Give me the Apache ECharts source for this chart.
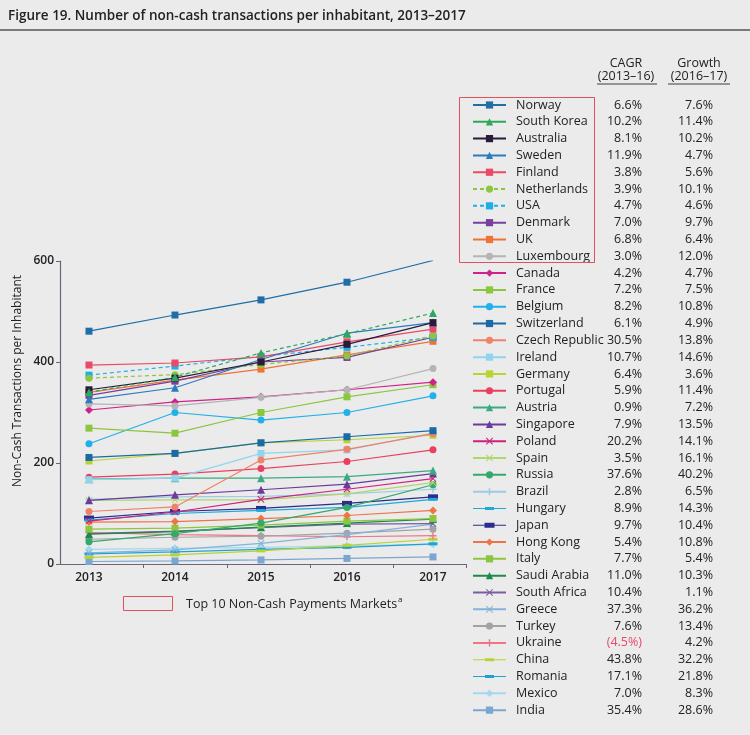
<!DOCTYPE html>
<html><head><meta charset="utf-8">
<script src="https://cdn.jsdelivr.net/npm/echarts@6/dist/echarts.min.js"></script>
<style>html,body{margin:0;padding:0;background:#ebebeb}#c{width:750px;height:735px}</style>
</head><body><div id="c"></div>
<script>
// ---------- DATA ----------
const years = [2013, 2014, 2015, 2016, 2017];
const yTicks = [0, 200, 400, 600];
const countries = ['Norway','South Korea','Australia','Sweden','Finland','Netherlands','USA','Denmark','UK','Luxembourg',
  'Canada','France','Belgium','Switzerland','Czech Republic','Ireland','Germany','Portugal','Austria','Singapore',
  'Poland','Spain','Russia','Brazil','Hungary','Japan','Hong Kong','Italy','Saudi Arabia','South Africa',
  'Greece','Turkey','Ukraine','China','Romania','Mexico','India'];
const cagr = ['6.6%','10.2%','8.1%','11.9%','3.8%','3.9%','4.7%','7.0%','6.8%','3.0%',
  '4.2%','7.2%','8.2%','6.1%','30.5%','10.7%','6.4%','5.9%','0.9%','7.9%',
  '20.2%','3.5%','37.6%','2.8%','8.9%','9.7%','5.4%','7.7%','11.0%','10.4%',
  '37.3%','7.6%','(4.5%)','43.8%','17.1%','7.0%','35.4%'];
const growth = ['7.6%','11.4%','10.2%','4.7%','5.6%','10.1%','4.6%','9.7%','6.4%','12.0%',
  '4.7%','7.5%','10.8%','4.9%','13.8%','14.6%','3.6%','11.4%','7.2%','13.5%',
  '14.1%','16.1%','40.2%','6.5%','14.3%','10.4%','10.8%','5.4%','10.3%','1.1%',
  '36.2%','13.4%','4.2%','32.2%','21.8%','8.3%','28.6%'];

const norway      = [461, 493, 523, 558, 601];
const southKorea  = [340, 370, 418, 456, 497];
const australia   = [345, 368, 400, 435, 478];
const sweden      = [326, 349, 405, 457, 478];
const finland     = [394, 398, 410, 440, 465];
const netherlands = [368, 375, 395, 412, 452];
const usa         = [374, 392, 411, 429, 449];
const denmark     = [334, 362, 400, 409, 449];
const uk          = [340, 364, 386, 414, 441];
const luxembourg  = [317, 313, 330, 345, 387];
const canada      = [305, 321, 331, 345, 360];
const france      = [269, 259, 300, 331, 355];
const belgium     = [238, 300, 285, 300, 333];
const switzerland = [211, 219, 240, 252, 264];
const czech       = [104, 113, 206, 227, 258];
const ireland     = [167, 170, 219, 226, 259];
const germany     = [204, 219, 240, 246, 255];
const portugal    = [172, 178, 189, 203, 226];
const austria     = [168, 170, 170, 173, 185];
const singapore   = [126, 137, 147, 158, 179];
const poland      = [85, 103, 128, 148, 169];
const spain       = [126, 127, 127, 139, 161];
const russia      = [44, 60, 81, 112, 157];
const brazil      = [128, 133, 134, 139, 148];
const hungary     = [87, 100, 106, 112, 128];
const japan       = [91, 104, 110, 120, 133];
const hongKong    = [83, 84, 90, 96, 106];
const italy       = [69, 71, 77, 85, 90];
const saudiArabia = [59, 64, 73, 81, 89];
const southAfrica = [60, 65, 72, 79, 80];
const greece      = [22, 28, 41, 58, 79];
const turkey      = [49, 53, 55, 61, 69];
const ukraine     = [62, 58, 56, 54, 56];
const china       = [13, 18, 26, 37, 49];
const romania     = [20, 24, 29, 33, 40];
const mexico      = [29, 31, 33, 36, 39];
const india       = [5, 6, 8, 11, 14];

const seriesValues = [norway, southKorea, australia, sweden, finland, netherlands, usa, denmark, uk, luxembourg,
  canada, france, belgium, switzerland, czech, ireland, germany, portugal, austria, singapore,
  poland, spain, russia, brazil, hungary, japan, hongKong, italy, saudiArabia, southAfrica,
  greece, turkey, ukraine, china, romania, mexico, india];

// ---------- STYLES ----------
const X = 'path://M1,0L5,4L9,0L10,1L6,5L10,9L9,10L5,6L1,10L0,9L4,5L0,1Z';
const P = 'path://M4,0H6V4H10V6H6V10H4V6H0V4H4Z';
const D = 'dash', DT = 'dashThick';
const styles = [
  ['#1f6ea6','rect'],['#2ea85a','triangle'],['#2a1b3d','rect'],['#2b7bbd','triangle'],['#e84a68','rect'],
  ['#8cc63f','circle','dashed'],['#1cb0e4','rect','dashed'],['#7a3ea0','rect'],['#f07235','rect'],['#b4b4b4','circle'],
  ['#d0228c','diamond'],['#8cc63f','rect'],['#22b0e8','circle'],['#1b6aa8','rect'],['#f0826a','circle'],
  ['#92d4ee','rect'],['#b9d332','rect'],['#e8405e','circle'],['#3aaa82','triangle'],['#6b3b9b','triangle'],
  ['#d0207c',X],['#b0d66e',X],['#35a86c','circle'],['#9ccbe6',P],['#1fa8d8',D],
  ['#2c2c8c',DT],['#f07345','diamond'],['#8cc63f','rect'],['#1b8a4c','triangle'],['#7c5ca2',X],
  ['#84b2da',X],['#a3a3a3','circle'],['#f07484',P],['#b9d332',D],['#1fa2d2',D],
  ['#a2d8f0','diamond'],['#7aa6d0','rect']
];

const series = countries.map((name, i) => {
  const [color, symbol, dash] = styles[i];
  let sym = symbol, size = (symbol === 'triangle' || symbol === 'diamond') ? 8 : 7;
  if (symbol === D) { sym = 'rect'; size = [9, 3]; }
  if (symbol === DT) { sym = 'rect'; size = [10, 5]; }
  return {
    name, type: 'line',
    data: years.map((y, k) => [y, seriesValues[i][k]]),
    symbol: sym,
    symbolSize: size,
    showSymbol: true,
    color,
    lineStyle: { color, width: 1.2, type: (i === 1 || dash) ? [4, 3] : 'solid' },
    itemStyle: { color },
    emphasis: { disabled: true },
    animation: false,
    z: 40 - i
  };
});

const DASH_ICON = 'path://M0,1.5H33V2.5H0Z M12,0.5H21V3.5H12Z';
const DASH_ICON_T = 'path://M0,2H33V3H0Z M11.5,0H21.5V5H11.5Z';
const legendData = countries.map((name, i) => {
  const d = { name };
  if (i === 1) d.lineStyle = { type: 'solid' };
  if (styles[i][1] === D) d.icon = DASH_ICON;
  if (styles[i][1] === DT) d.icon = DASH_ICON_T;
  return d;
});

const FONT = '"Open Sans", "Noto Sans", sans-serif';

const chart = echarts.init(document.getElementById('c'), null, { renderer: 'canvas' });
chart.setOption({
  backgroundColor: '#ebebeb',
  animation: false,
  textStyle: { fontFamily: FONT },
  grid: { left: 60, right: 284, top: 261, bottom: 171 },
  xAxis: {
    type: 'value',
    min: 2012.663, max: 2017.384,
    axisLine: { show: true, lineStyle: { color: '#6e6478', width: 1.2 } },
    axisTick: { show: true, customValues: [2013.634, 2014.605, 2015.57, 2016.535, 2017.384], length: 4, inside: false, lineStyle: { color: '#6e6478' } },
    axisLabel: { customValues: years, formatter: v => String(v), color: '#222', fontSize: 12, fontWeight: 600, margin: 8, fontFamily: FONT },
    splitLine: { show: false }
  },
  yAxis: {
    type: 'value', min: 0, max: 600, interval: 200,
    axisLine: { show: true, lineStyle: { color: '#6e6478', width: 1.2 } },
    axisTick: { show: true, length: 4, lineStyle: { color: '#6e6478' } },
    axisLabel: { color: '#222', fontSize: 12, fontWeight: 600, margin: 6, fontFamily: FONT },
    splitLine: { show: false }
  },
  legend: {
    orient: 'vertical', left: 472, top: 98, padding: 0,
    itemWidth: 33, itemHeight: 9, itemGap: 2.81,
    symbolKeepAspect: true,
    selectedMode: false,
    data: legendData,
    formatter: name => {
      const i = countries.indexOf(name);
      const ck = name === 'Ukraine' ? 'cr' : 'c';
      return `{n|${name}}{${ck}|${cagr[i]}}{g|${growth[i]}}`;
    },
    textStyle: {
      fontFamily: FONT, fontSize: 12.5, color: '#222', lineHeight: 14,
      rich: {
        n: { width: 94, padding: [0, 0, 0, 5], fontSize: 12.5, lineHeight: 14, color: '#222', fontFamily: FONT },
        c: { width: 32, align: 'right', fontSize: 12.5, lineHeight: 14, color: '#222', fontFamily: FONT },
        cr: { width: 32, align: 'right', fontSize: 12.5, lineHeight: 14, color: '#e84a68', fontFamily: FONT },
        g: { width: 71, align: 'right', fontSize: 12.5, lineHeight: 14, color: '#222', fontFamily: FONT }
      }
    }
  },
  graphic: [
    { type: 'text', left: 8, top: 9, style: { text: 'Figure 19. Number of non-cash transactions per inhabitant, 2013–2017', font: `600 13.5px ${FONT}`, fill: '#222' } },
    { type: 'line', shape: { x1: 0, y1: 30, x2: 750, y2: 30 }, style: { stroke: '#555', lineWidth: 1.5 } },
    { type: 'text', x: 18, y: 381, rotation: Math.PI / 2, style: { text: 'Non-Cash Transactions per Inhabitant', font: `12px ${FONT}`, fill: '#222', align: 'center', verticalAlign: 'middle' } },
    { type: 'text', x: 626, y: 63, style: { text: 'CAGR', font: `12.5px ${FONT}`, fill: '#222', align: 'center', verticalAlign: 'middle' } },
    { type: 'text', x: 626, y: 76, style: { text: '(2013–16)', font: `12.5px ${FONT}`, fill: '#222', align: 'center', verticalAlign: 'middle' } },
    { type: 'text', x: 699, y: 63, style: { text: 'Growth', font: `12.5px ${FONT}`, fill: '#222', align: 'center', verticalAlign: 'middle' } },
    { type: 'text', x: 699, y: 76, style: { text: '(2016–17)', font: `12.5px ${FONT}`, fill: '#222', align: 'center', verticalAlign: 'middle' } },
    { type: 'line', shape: { x1: 597, y1: 84, x2: 657, y2: 84 }, style: { stroke: '#777', lineWidth: 1.5 } },
    { type: 'line', shape: { x1: 668, y1: 84, x2: 730, y2: 84 }, style: { stroke: '#777', lineWidth: 1.5 } },
    { type: 'rect', shape: { x: 459.5, y: 97.5, width: 135, height: 165 }, style: { fill: 'none', stroke: '#e0505e', lineWidth: 1 }, z: 100 },
    { type: 'rect', shape: { x: 123.5, y: 596.5, width: 49, height: 14 }, style: { fill: 'none', stroke: '#e0505e', lineWidth: 1 } },
    { type: 'text', x: 186, y: 604, style: { text: '{t|Top 10 Non-Cash Payments Markets}{s|a}', font: `12.5px ${FONT}`, fill: '#222', verticalAlign: 'middle',
        rich: { t: { fontSize: 12.5, fontFamily: FONT, fill: '#222' }, s: { fontSize: 8, fontFamily: FONT, verticalAlign: 'top', padding: [0, 0, 8, 1] } } } }
  ],
  series
});
</script></body></html>
